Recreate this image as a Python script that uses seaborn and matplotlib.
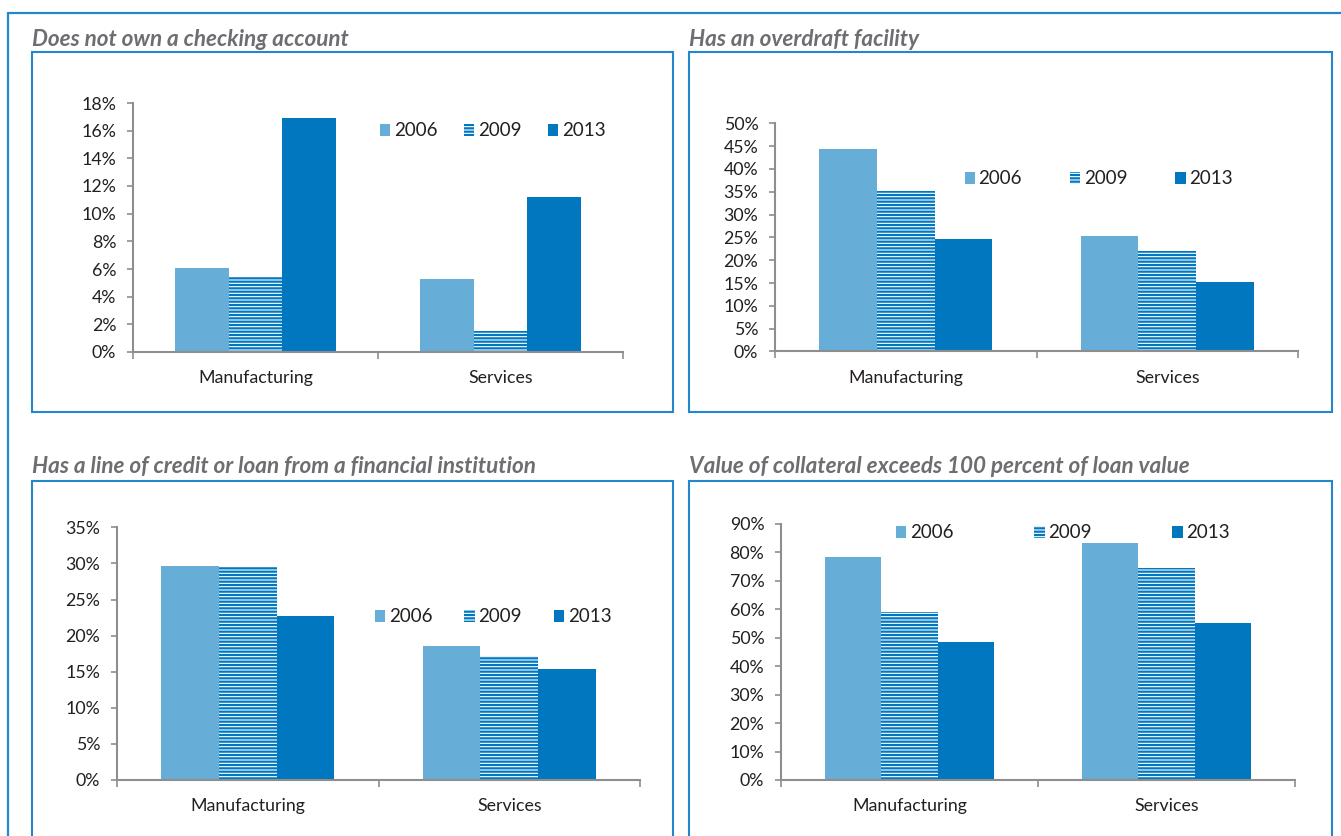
import matplotlib
matplotlib.use("Agg")
import matplotlib.pyplot as plt
from matplotlib.patches import Rectangle, Patch
from matplotlib.lines import Line2D
from matplotlib.ticker import PercentFormatter, FixedLocator
import seaborn as sns
import pandas as pd

# ---- data (percent of firms) ----
sectors = ["Manufacturing", "Services"]
years = ["2006", "2009", "2013"]

checking_none = {"2006": [6.1, 5.3], "2009": [5.4, 1.5], "2013": [16.9, 11.2]}
overdraft = {"2006": [44.4, 25.3], "2009": [35.2, 22.0], "2013": [24.7, 15.3]}
credit_line = {"2006": [29.6, 18.6], "2009": [29.5, 17.2], "2013": [22.7, 15.4]}
collateral = {"2006": [78.4, 83.3], "2009": [59.1, 74.7], "2013": [48.4, 55.2]}

titles = [
    "Does not own a checking account",
    "Has an overdraft facility",
    "Has a line of credit or loan from a financial institution",
    "Value of collateral exceeds 100 percent of loan value",
]
y_max = [18, 50, 35, 90]
y_step = [2, 5, 5, 10]

# ---- styling ----
W, H = 1341, 836
LIGHT = "#66ADD8"
DARK = "#0077BF"
FRAME = "#2387CA"
AXIS = "#8E8E8E"
TITLE_C = "#6D6E71"
TEXT_C = "#231F20"
HATCH = "-----"

sns.set_style("white")
plt.rcParams["font.family"] = ["Lato", "DejaVu Sans"]
plt.rcParams["hatch.linewidth"] = 1.6
plt.rcParams["hatch.color"] = DARK

fig = plt.figure(figsize=(W / 100, H / 100), dpi=100)
fig.patch.set_facecolor("white")


def fx(x):
    return x / W


def fy(y):
    return 1 - y / H


# outer frame (runs off the right and bottom edges)
fig.add_artist(Line2D([fx(8), fx(W + 5)], [fy(13), fy(13)], color=FRAME, lw=1.6,
                      transform=fig.transFigure))
fig.add_artist(Line2D([fx(8), fx(8)], [fy(13), fy(H + 5)], color=FRAME, lw=1.6,
                      transform=fig.transFigure))

# panel boxes: (left, top, right, bottom) in pixels
boxes = [(32, 52, 673, 412), (689, 52, 1332, 412),
         (32, 481, 673, 900), (689, 481, 1332, 900)]
title_pos = [(32, 46), (689, 46), (32, 473), (689, 473)]

# axes: (x0, x1, y_top, y_zero) in pixels
axes_px = [(133, 623, 103, 352), (775, 1298, 123.3, 351.5),
           (117, 640, 527.3, 780), (781, 1295, 524, 780)]

# legend: (left of first swatch, vertical centre, column spacing in font units)
legend_px = [(380, 131, 1.4), (964.5, 179, 2.55), (375, 617, 1.7), (896, 533, 4.3)]

datasets = [checking_none, overdraft, credit_line, collateral]

for i, data in enumerate(datasets):
    l, t, r, b = boxes[i]
    fig.add_artist(Rectangle((fx(l), fy(b)), fx(r - l), (b - t) / H, fill=False,
                             edgecolor=FRAME, lw=1.5, transform=fig.transFigure))
    tx, ty = title_pos[i]
    fig.text(fx(tx), fy(ty), titles[i], fontsize=16.2, fontweight="bold",
             fontstyle="italic", color=TITLE_C, ha="left", va="baseline")

    x0, x1, yt, y0 = axes_px[i]
    ax = fig.add_axes([fx(x0), fy(y0), (x1 - x0) / W, (y0 - yt) / H])

    df = pd.DataFrame({
        "sector": sectors * len(years),
        "year": [y for y in years for _ in sectors],
        "value": [v for y in years for v in data[y]],
    })
    sns.barplot(data=df, x="sector", y="value", hue="year", hue_order=years,
                palette=[LIGHT, DARK, DARK], saturation=1, width=0.66,
                linewidth=0, ax=ax, legend=False, errorbar=None)
    # 2009 bars: white with horizontal blue stripes
    for bar in ax.containers[1]:
        bar.set_facecolor("white")
        bar.set_edgecolor(DARK)
        bar.set_linewidth(0)
        bar.set_hatch(HATCH)

    ax.set_xlim(-0.5, 1.5)
    ax.set_ylim(0, y_max[i])
    ax.set_xlabel("")
    ax.set_ylabel("")
    ax.yaxis.set_major_locator(FixedLocator(list(range(0, y_max[i] + 1, y_step[i]))))
    ax.yaxis.set_major_formatter(PercentFormatter(decimals=0))
    ax.set_xticks([0, 1])
    ax.set_xticklabels(sectors)
    ax.set_xticks([-0.5, 0.5, 1.5], minor=True)

    for side in ["top", "right"]:
        ax.spines[side].set_visible(False)
    for side in ["left", "bottom"]:
        ax.spines[side].set_color(AXIS)
        ax.spines[side].set_linewidth(1.5)
    ax.spines["left"].set_zorder(0.5)

    ax.tick_params(axis="y", which="major", direction="out", length=4, width=1.2,
                   color=AXIS, labelsize=12.8, labelcolor=TEXT_C, pad=8, left=True)
    ax.tick_params(axis="x", which="major", length=0, labelsize=12.8,
                   labelcolor=TEXT_C, pad=13)
    ax.tick_params(axis="x", which="minor", direction="out", length=5, width=1.2,
                   color=AXIS, bottom=True)
    ax.grid(False)
    ax.patch.set_alpha(0)

    handles = [Patch(facecolor=LIGHT, linewidth=0),
               Patch(facecolor="white", edgecolor=DARK, linewidth=0, hatch=HATCH),
               Patch(facecolor=DARK, linewidth=0)]
    lx, ly, cs = legend_px[i]
    ax.legend(handles, years, ncol=3, loc="center left",
              bbox_to_anchor=(fx(lx), fy(ly)), bbox_transform=fig.transFigure,
              frameon=False, fontsize=13.5, handlelength=0.55, handleheight=0.55,
              handletextpad=0.2, columnspacing=cs, borderpad=0, borderaxespad=0,
              labelcolor=TEXT_C)

fig.savefig("out.png", dpi=100, facecolor="white")
